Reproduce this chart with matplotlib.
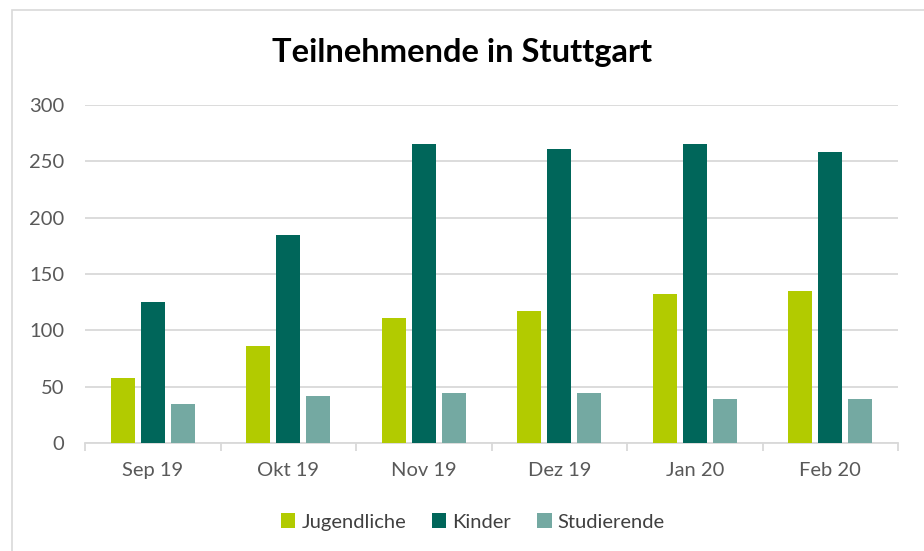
import matplotlib
matplotlib.use("Agg")
import matplotlib.pyplot as plt
import numpy as np
from matplotlib.patches import Rectangle

categories = ["Sep 19", "Okt 19", "Nov 19", "Dez 19", "Jan 20", "Feb 20"]
jugendliche = [58, 86, 111, 117, 132, 135]
kinder = [125, 185, 265, 261, 265, 258]
studierende = [35, 42, 44, 44, 39, 39]
series_names = ["Jugendliche", "Kinder", "Studierende"]
colors = ["#B2CB00", "#00665A", "#74A9A2"]

plt.rcParams['font.family'] = ['Lato', 'DejaVu Sans']

fig = plt.figure(figsize=(9.24, 5.51), dpi=100)
fig.patch.set_facecolor("white")
# chart frame
fig.patches.append(Rectangle((12/924, -0.2), 1.2, 1 - 10/551 + 0.2, transform=fig.transFigure,
                             fill=False, edgecolor="#D9D9D9", linewidth=1.2))

ax = fig.add_axes([85/924, (551-443)/551, (898-85)/924, (443-105)/551])
x = np.arange(len(categories))
w = 0.177
step = 0.222
for i, (vals, c, n) in enumerate(zip([jugendliche, kinder, studierende], colors, series_names)):
    ax.bar(x + (i-1)*step, vals, width=w, color=c, label=n, zorder=3)

ax.set_xlim(-0.5, len(categories)-0.5)
ax.set_ylim(0, 300)
ax.set_yticks(range(0, 301, 50))
ax.yaxis.grid(True, color="#D9D9D9", linewidth=1.3, zorder=0)
ax.tick_params(axis='y', length=0, labelsize=14.5, labelcolor="#595959", pad=15)
ax.set_xticks(x)
ax.set_xticklabels(categories)
ax.tick_params(axis='x', length=0, labelsize=14.5, labelcolor="#595959", pad=14)
ax.set_xticks(np.arange(-0.5, len(categories), 1), minor=True)
ax.tick_params(axis='x', which='minor', length=6, color="#D9D9D9", width=1.3)
for s in ["top", "right", "left"]:
    ax.spines[s].set_visible(False)
ax.spines["bottom"].set_color("#D9D9D9")
ax.spines["bottom"].set_linewidth(1.3)

fig.text(0.5, 1 - 53/551, "Teilnehmende in Stuttgart", ha="center", va="center",
         fontsize=23.5, fontweight="bold", color="black")

leg = fig.legend(loc="center", bbox_to_anchor=(473/924, 1 - 522/551), ncol=3, frameon=False,
                 fontsize=14.5, handlelength=0.7, handleheight=0.7, handletextpad=0.3,
                 columnspacing=1.3)
for t in leg.get_texts():
    t.set_color("#404040")

fig.savefig("out.png", dpi=100, facecolor="white")
